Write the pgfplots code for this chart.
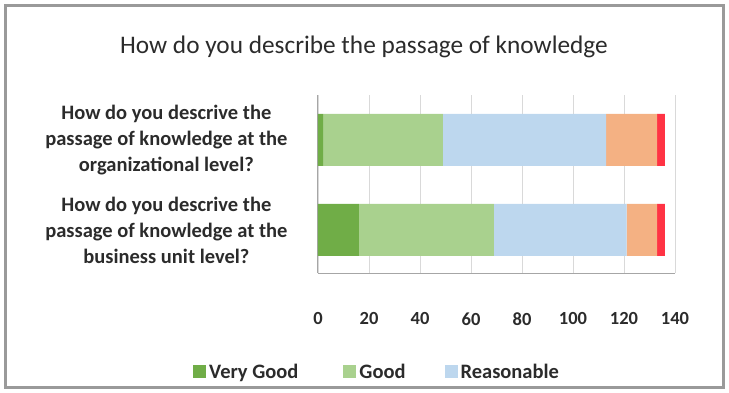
\documentclass[border=0pt]{standalone}
\usepackage{pgfplots}
\pgfplotsset{compat=1.18}
\usepackage{fontspec}
\setmainfont{Carlito}
\definecolor{vgood}{HTML}{70AD47}
\definecolor{good}{HTML}{A9D18E}
\definecolor{reas}{HTML}{BDD7EE}
\definecolor{bad}{HTML}{F4B183}
\definecolor{vbad}{HTML}{FF3344}
\definecolor{txt}{HTML}{2B2B2B}
\definecolor{frame}{HTML}{9A9A9A}
\definecolor{gridc}{HTML}{D9D9D9}
\definecolor{axc}{HTML}{A6A6A6}
\begin{document}
\begin{tikzpicture}[x=1pt,y=1pt]
\useasboundingbox (0,0) rectangle (729,392);
\draw[frame, line width=3pt] (5.5,4.5) rectangle (723.5,386.5);
\node[txt, font=\fontsize{25.3}{30}\selectfont] at (364,345) {How do you describe the passage of knowledge};
\begin{axis}[
  at={(318pt,119pt)}, anchor=south west,
  scale only axis, width=357pt, height=178pt,
  xbar stacked, bar width=52pt,
  xmin=0, xmax=140, ymin=-0.478, ymax=1.5,
  xtick={0,20,...,140},
  ytick={0,1},
  yticklabels={{How do you descrive the\\passage of knowledge at the\\business unit level?},{How do you descrive the\\passage of knowledge at the\\organizational level?}},
  yticklabel style={align=center, font=\bfseries\fontsize{20.5}{26}\selectfont, text=txt, xshift=-27pt},
  xticklabel style={font=\bfseries\fontsize{18.5}{22}\selectfont, text=txt, yshift=-36pt},
  /pgf/number format/assume math mode=true,
  major tick length=0pt,
  xmajorgrids, grid style={gridc, line width=0.8pt},
  axis x line*=bottom, axis y line*=left,
  axis line style={-, axc, line width=1pt},
  legend columns=3,
  legend style={at={(-0.350,-0.556)}, anchor=west, draw=none, fill=none,
    inner sep=0pt, column sep=0pt,
    font=\bfseries\fontsize{20.5}{24}\selectfont, text=txt},
  legend image code/.code={\fill[#1] (0pt,-6.5pt) rectangle (13pt,6.5pt); \path (14pt,0pt);},
]
\addplot[fill=vgood, draw=none] coordinates {(16,0) (2,1)};
\addplot[fill=good, draw=none] coordinates {(53,0) (47,1)};
\addplot[fill=reas, draw=none] coordinates {(52,0) (64,1)};
\addplot[fill=bad, draw=none, forget plot] coordinates {(12,0) (20,1)};
\addplot[fill=vbad, draw=none, forget plot] coordinates {(3,0) (3,1)};
\legend{Very Good\hspace*{43pt}\null, Good\hspace*{37pt}\null, Reasonable}
\end{axis}
\end{tikzpicture}
\end{document}
